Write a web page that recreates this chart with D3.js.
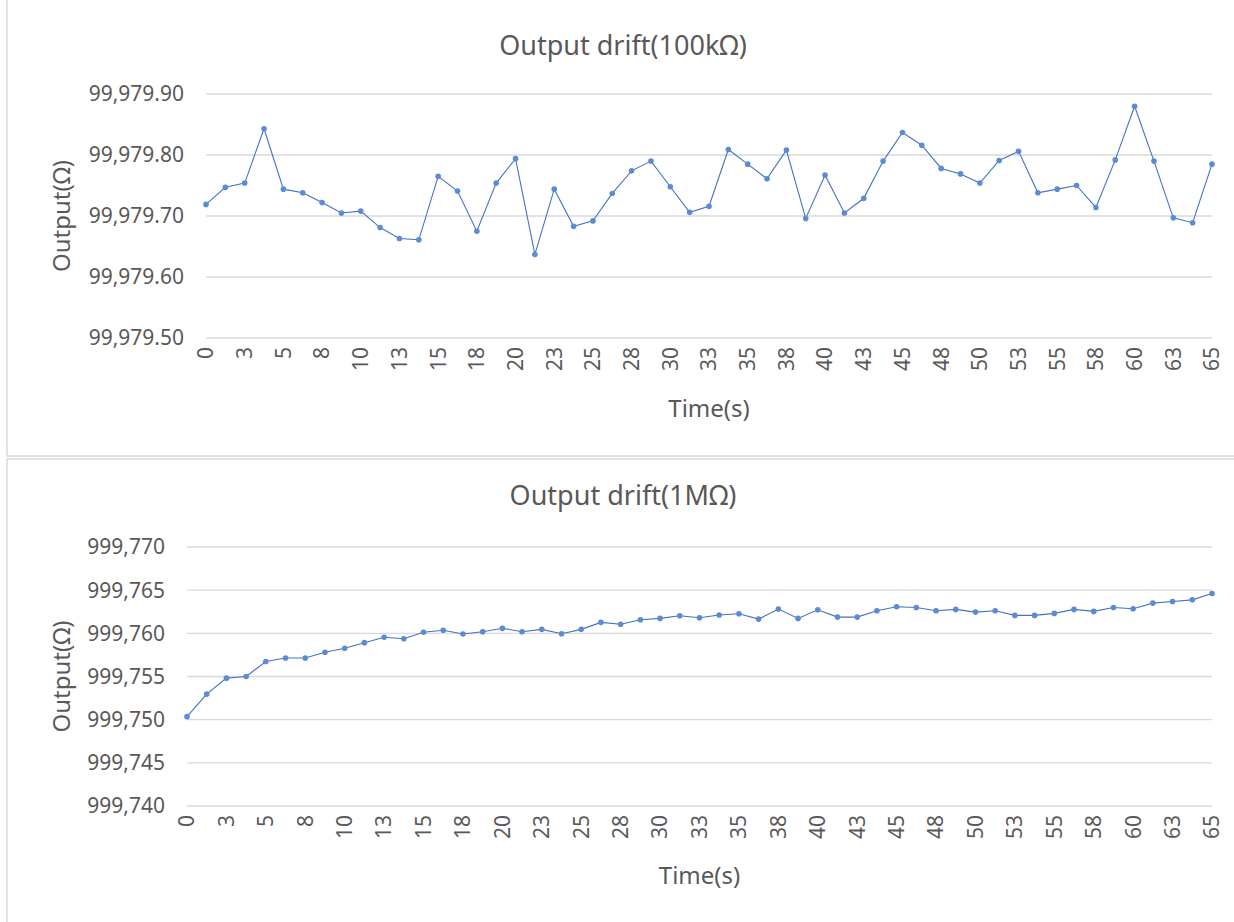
<!DOCTYPE html>
<html>
<head>
<meta charset="utf-8">
<script src="https://cdn.jsdelivr.net/npm/d3@7"></script>
<style>
  body { margin: 0; background: #fff; }
  svg { display: block; font-family: "Noto Sans", sans-serif; }
  .grid line { stroke: #d9d9d9; stroke-width: 1.3; }
  .tick-label { fill: #595959; font-size: 21px; }
  .title { fill: #595959; font-size: 27px; }
  .axis-title { fill: #595959; font-size: 24px; }
</style>
</head>
<body>
<div id="chart"></div>
<script>
// time stamps (s), one sample every 1.25 s
const times = [0, 1.25, 2.5, 3.75, 5, 6.25, 7.5, 8.75, 10, 11.25, 12.5, 13.75, 15, 16.25, 17.5, 18.75,
  20, 21.25, 22.5, 23.75, 25, 26.25, 27.5, 28.75, 30, 31.25, 32.5, 33.75, 35, 36.25, 37.5, 38.75,
  40, 41.25, 42.5, 43.75, 45, 46.25, 47.5, 48.75, 50, 51.25, 52.5, 53.75, 55, 56.25, 57.5, 58.75,
  60, 61.25, 62.5, 63.75, 65];

// category labels shown on the axis (every other sample)
const timeLabels = ["0", "3", "5", "8", "10", "13", "15", "18", "20", "23", "25", "28", "30", "33",
  "35", "38", "40", "43", "45", "48", "50", "53", "55", "58", "60", "63", "65"];

// 100kOhm output readings
const out100k = [99979.719, 99979.747, 99979.754, 99979.843, 99979.744, 99979.738, 99979.722, 99979.705,
  99979.708, 99979.681, 99979.663, 99979.661, 99979.765, 99979.741, 99979.675, 99979.754, 99979.794,
  99979.637, 99979.744, 99979.683, 99979.692, 99979.737, 99979.774, 99979.790, 99979.748, 99979.706,
  99979.716, 99979.809, 99979.785, 99979.761, 99979.808, 99979.696, 99979.767, 99979.705, 99979.729,
  99979.790, 99979.837, 99979.816, 99979.778, 99979.769, 99979.754, 99979.791, 99979.806, 99979.738,
  99979.744, 99979.750, 99979.714, 99979.792, 99979.880, 99979.790, 99979.697, 99979.689, 99979.785];

// 1MOhm output readings
const out1M = [999750.35, 999752.96, 999754.81, 999755.00, 999756.73, 999757.15, 999757.15, 999757.81,
  999758.27, 999758.92, 999759.54, 999759.38, 999760.12, 999760.35, 999759.92, 999760.19, 999760.58,
  999760.19, 999760.46, 999759.96, 999760.46, 999761.27, 999761.06, 999761.58, 999761.73, 999762.04,
  999761.81, 999762.12, 999762.27, 999761.65, 999762.81, 999761.73, 999762.73, 999761.88, 999761.88,
  999762.62, 999763.08, 999763.00, 999762.62, 999762.77, 999762.46, 999762.62, 999762.08, 999762.08,
  999762.31, 999762.77, 999762.54, 999763.00, 999762.85, 999763.50, 999763.69, 999763.88, 999764.62];

const ticks100k = [99979.5, 99979.6, 99979.7, 99979.8, 99979.9];
const ticks1M = [999740, 999745, 999750, 999755, 999760, 999765, 999770];

const width = 1234, height = 922;
const svg = d3.select("#chart").append("svg")
  .attr("width", width)
  .attr("height", height);

function drawPanel(cfg) {
  const g = svg.append("g");

  // panel frame
  g.append("rect")
    .attr("x", 7).attr("y", cfg.top)
    .attr("width", 1250).attr("height", cfg.bottom - cfg.top)
    .attr("fill", "none")
    .attr("stroke", "#d9d9d9")
    .attr("stroke-width", 1.5);

  const x = d3.scalePoint()
    .domain(d3.range(times.length))
    .range([cfg.left, cfg.right]);

  const y = d3.scaleLinear()
    .domain(cfg.domain)
    .range([cfg.plotBottom, cfg.plotTop]);

  // gridlines
  g.append("g").attr("class", "grid")
    .selectAll("line")
    .data(cfg.ticks)
    .enter().append("line")
    .attr("x1", cfg.left).attr("x2", cfg.right)
    .attr("y1", d => y(d)).attr("y2", d => y(d));

  // y tick labels
  g.append("g")
    .selectAll("text")
    .data(cfg.ticks)
    .enter().append("text")
    .attr("class", "tick-label")
    .attr("x", cfg.left - 22)
    .attr("y", d => y(d))
    .attr("dy", "0.35em")
    .attr("text-anchor", "end")
    .text(cfg.fmt);

  // x tick labels, every other category, rotated
  g.append("g")
    .selectAll("text")
    .data(timeLabels)
    .enter().append("text")
    .attr("class", "tick-label")
    .attr("text-anchor", "end")
    .attr("dy", "0.35em")
    .attr("transform", (d, i) => `translate(${x(i * 2)},${cfg.plotBottom + 9}) rotate(-90)`)
    .text(d => d);

  // line + markers
  const line = d3.line()
    .x((d, i) => x(i))
    .y(d => y(d));

  g.append("path")
    .datum(cfg.values)
    .attr("d", line)
    .attr("fill", "none")
    .attr("stroke", "#4472c4")
    .attr("stroke-width", 1.1);

  g.append("g")
    .selectAll("circle")
    .data(cfg.values)
    .enter().append("circle")
    .attr("cx", (d, i) => x(i))
    .attr("cy", d => y(d))
    .attr("r", 2.8)
    .attr("fill", "#5b8bd3");

  // titles
  g.append("text")
    .attr("class", "title")
    .attr("x", 623).attr("y", cfg.titleY)
    .attr("text-anchor", "middle")
    .text(cfg.title);

  g.append("text")
    .attr("class", "axis-title")
    .attr("text-anchor", "middle")
    .attr("transform", `translate(70,${(cfg.plotTop + cfg.plotBottom) / 2}) rotate(-90)`)
    .text("Output(Ω)");

  g.append("text")
    .attr("class", "axis-title")
    .attr("x", (cfg.left + cfg.right) / 2)
    .attr("y", cfg.timeY)
    .attr("text-anchor", "middle")
    .text("Time(s)");
}

drawPanel({
  top: -2, bottom: 456,
  left: 206, right: 1212,
  plotTop: 94, plotBottom: 338,
  domain: [99979.5, 99979.9],
  ticks: ticks100k,
  fmt: d3.format(",.2f"),
  values: out100k,
  title: "Output drift(100kΩ)",
  titleY: 55,
  timeY: 417
});

drawPanel({
  top: 459, bottom: 930,
  left: 187, right: 1212,
  plotTop: 547, plotBottom: 806,
  domain: [999740, 999770],
  ticks: ticks1M,
  fmt: d3.format(","),
  values: out1M,
  title: "Output drift(1MΩ)",
  titleY: 505,
  timeY: 884
});
</script>
</body>
</html>
